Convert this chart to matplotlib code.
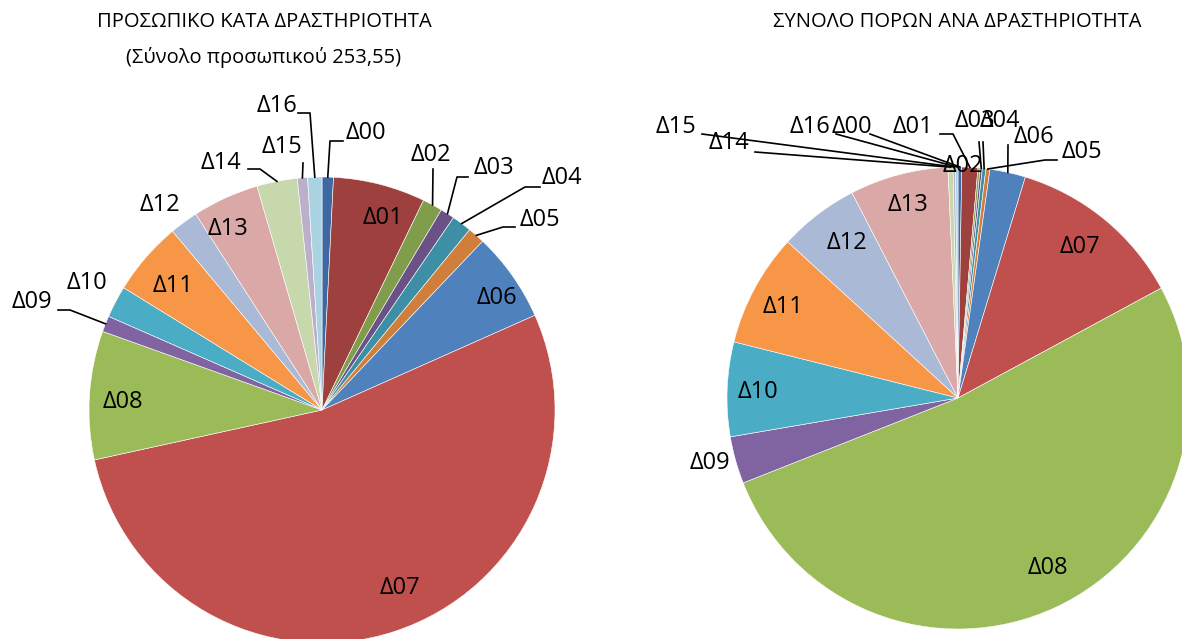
import numpy as np
import matplotlib
matplotlib.use("Agg")
import matplotlib.pyplot as plt

plt.rcParams['font.family'] = ['Open Sans', 'DejaVu Sans']

# activity codes and the two series
codes = ["Δ00", "Δ01", "Δ02", "Δ03", "Δ04", "Δ05", "Δ06", "Δ07", "Δ08",
         "Δ09", "Δ10", "Δ11", "Δ12", "Δ13", "Δ14", "Δ15", "Δ16"]
staff = [2.0, 16.2, 3.5, 2.5, 3.5, 3.0, 15.8, 134.95, 22.6,
         2.8, 5.6, 13.0, 5.0, 11.7, 7.1, 1.8, 2.5]
resources = [0.26, 1.12, 0.15, 0.15, 0.25, 0.28, 2.5, 12.4, 51.9,
             3.3, 6.6, 7.9, 5.6, 6.9, 0.35, 0.17, 0.17]

colors = ["#3D68A1", "#9E413E", "#7F9D4A", "#6A5286", "#3D8FA6", "#CF7E3B",
          "#4F81BD", "#C0504D", "#9BBB59", "#8064A2", "#4BACC6", "#F79646",
          "#AAB9D6", "#D9A8A7", "#C8D8AD", "#BBAFCC", "#A9D3E0"]

left_title = ["ΠΡΟΣΩΠΙΚΟ ΚΑΤΑ ΔΡΑΣΤΗΡΙΟΤΗΤΑ", "(Σύνολο προσωπικού 253,55)"]
right_title = "ΣΥΝΟΛΟ ΠΟΡΩΝ ΑΝΑ ΔΡΑΣΤΗΡΙΟΤΗΤΑ"

W, H = 1182, 639
FS = 17
TITLE_FS = 14.5

# label layout in pixel coords (y down): inside labels -> (x, y)
left_inside = {"Δ01": (383, 218), "Δ06": (497, 298), "Δ07": (400, 588),
               "Δ08": (123, 402), "Δ11": (173, 286), "Δ13": (228, 229)}
# outside labels -> text (x, y), leader polyline start points (elbow) or None
left_outside = {
    "Δ16": ((277, 106), [(298, 113), (310, 113)]),
    "Δ00": ((366, 133), [(343, 141), (330, 141)]),
    "Δ15": ((282, 147), [(303, 163)]),
    "Δ14": ((221, 163), [(248, 169), (260, 169)]),
    "Δ02": ((431, 155), [(433, 169)]),
    "Δ03": ((494, 168), [(468, 177), (457, 177)]),
    "Δ04": ((562, 178), [(540, 187), (525, 187)]),
    "Δ05": ((540, 220), [(515, 227), (503, 227)]),
    "Δ12": ((160, 205), None),
    "Δ10": ((87, 283), None),
    "Δ09": ((32, 302), [(58, 310), (70, 310)]),
}
right_inside = {"Δ07": (1080, 247), "Δ08": (1048, 568), "Δ10": (758, 392),
                "Δ11": (783, 307), "Δ12": (847, 243), "Δ13": (908, 205)}
right_outside = {
    "Δ15": ((676, 127), [(702, 134)]),
    "Δ14": ((729, 143), [(755, 152)]),
    "Δ16": ((810, 127), [(836, 134)]),
    "Δ00": ((852, 127), [(870, 134)]),
    "Δ01": ((913, 127), [(940, 134), (953, 134)]),
    "Δ02": ((963, 166), None),
    "Δ03": ((975, 121), [(979, 142)]),
    "Δ04": ((1000, 121), [(983, 142)]),
    "Δ06": ((1034, 137), [(1008, 145)]),
    "Δ05": ((1082, 152), [(1057, 160), (1045, 160)]),
    "Δ09": ((710, 463), None),
}


def draw_pie(ax, values, center, radius, inside, outside):
    """draws one pie (clockwise from 12 o'clock on a y-down axis) with its labels"""
    ax.pie(values, colors=colors, startangle=-90, counterclock=True,
           center=center, radius=radius,
           wedgeprops=dict(linewidth=0.4, edgecolor="white"))

    # mid angle of every wedge, for the leader lines
    frac = np.array(values) / np.sum(values)
    cum = np.concatenate([[0], np.cumsum(frac)])
    mids = np.radians(-90 + 360 * (cum[:-1] + cum[1:]) / 2)

    for code, pos in inside.items():
        ax.text(pos[0], pos[1], code, fontsize=FS, ha="center", va="center")

    for code, (pos, elbow) in outside.items():
        ax.text(pos[0], pos[1], code, fontsize=FS, ha="center", va="center")
        if elbow is None:
            continue
        i = codes.index(code)
        end = (center[0] + radius * np.cos(mids[i]), center[1] + radius * np.sin(mids[i]))
        pts = elbow + [end]
        ax.plot([p[0] for p in pts], [p[1] for p in pts], color="black", linewidth=1.2)


fig = plt.figure(figsize=(W / 100, H / 100), dpi=100)
ax = fig.add_axes([0, 0, 1, 1])

draw_pie(ax, staff, (322, 410), 233, left_inside, left_outside)
draw_pie(ax, resources, (958, 398), 231, right_inside, right_outside)

ax.text(264, 22, left_title[0], fontsize=TITLE_FS, ha="center", va="center")
ax.text(264, 57, left_title[1], fontsize=TITLE_FS, ha="center", va="center")
ax.text(957, 22, right_title, fontsize=TITLE_FS, ha="center", va="center")

ax.set_xlim(0, W)
ax.set_ylim(H, 0)
ax.set_aspect("auto")
ax.axis("off")

fig.savefig("out.png", dpi=100)
